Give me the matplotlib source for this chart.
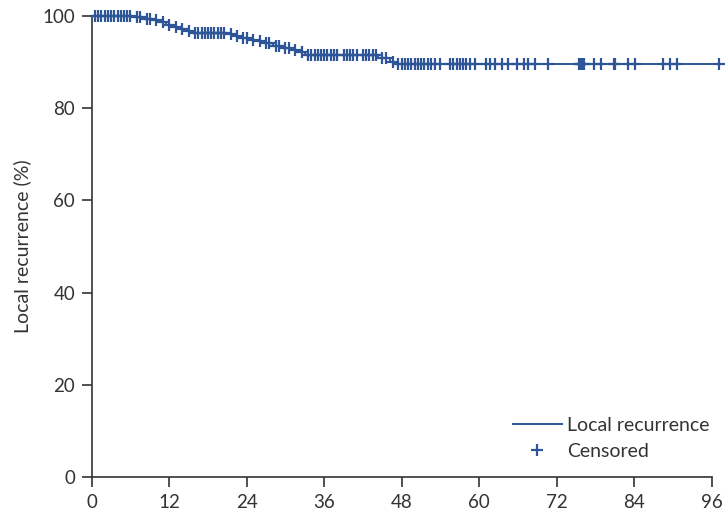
import matplotlib
matplotlib.use("Agg")
import matplotlib.pyplot as plt
import numpy as np

plt.rcParams['font.family'] = ['Lato', 'DejaVu Sans']

# Kaplan-Meier step points (months, % free of local recurrence)
eventTimes = [0, 6.5, 8, 9.5, 10.5, 11.5, 12.5, 13.5, 14.5, 15.5, 21, 22, 23, 24.5, 25.5,
              26.5, 28, 29.5, 31, 32, 33, 44.3, 46.2, 47.0]
survival = [100, 99.7, 99.4, 99.1, 98.6, 98.1, 97.6, 97.2, 96.8, 96.4, 96.1, 95.7, 95.3,
            94.9, 94.5, 94.1, 93.6, 93.1, 92.6, 92.1, 91.6, 90.9, 90.1, 89.5]
endTime = 97.2

# Censored observations (months)
censorTimes = [0.5, 1, 1.5, 2, 2.5, 3, 3.5, 4, 4.5, 5, 5.5, 6, 7, 7.5,
               8.5, 9, 10, 11, 12, 13, 14, 15, 16, 16.5, 17, 17.5, 18, 18.5,
               19, 19.5, 20, 20.5, 21.5, 22.5, 23.5, 24, 25, 26, 27, 27.5, 28.5,
               29, 30, 30.5, 31.5, 32.5, 33.5, 34, 34.5, 35, 35.5, 36, 36.5, 37,
               37.5, 38, 39, 39.5, 40, 40.5, 41, 42, 42.5, 43, 43.5, 44, 45, 45.5,
               46.6, 47.5, 48, 48.5, 49, 49.5, 50, 50.5, 51, 51.5, 52, 52.5, 53.2,
               54, 55.5, 56, 56.5, 57, 57.5, 58, 58.5, 59.4, 61, 61.7, 62.5, 63.6,
               64.5, 65.9, 66.9, 67.6, 68.7, 70.7, 75.4, 75.7, 76, 76.2, 77.7,
               78.8, 80.8, 81.1, 83.1, 84.2, 88.4, 89.6, 90.7, 97.2]

xTicks = [0, 12, 24, 36, 48, 60, 72, 84, 96]
yTicks = [0, 20, 40, 60, 80, 100]

blue = '#2E5597'
grey = '#333333'

fig = plt.figure(figsize=(7.28, 5.23), dpi=100)
ax = fig.add_axes([0.126, 0.088, 0.8516, 0.8814])

# Step curve
stepX = eventTimes + [endTime]
stepY = survival + [survival[-1]]
ax.step(stepX, stepY, where='post', color=blue, linewidth=1.4, clip_on=False,
        label='Local recurrence', zorder=3)

# Censor marks on the curve
censorY = [survival[np.searchsorted(eventTimes, t, side='right') - 1] for t in censorTimes]
ax.plot(censorTimes, censorY, linestyle='none', marker='+', markersize=8,
        markeredgewidth=1.6, color=blue, clip_on=False, label='Censored', zorder=4)

ax.set_xlim(0, 96)
ax.set_ylim(0, 100)
ax.set_xticks(xTicks)
ax.set_yticks(yTicks)
ax.spines['top'].set_visible(False)
ax.spines['right'].set_visible(False)
for s in ['left', 'bottom']:
    ax.spines[s].set_color(grey)
    ax.spines[s].set_linewidth(1.2)
ax.tick_params(axis='both', direction='out', length=7, width=1.2, color=grey,
               labelcolor=grey, labelsize=13.5, pad=5)
ax.set_ylabel('Local recurrence (%)', fontsize=14, color=grey, labelpad=8)

ax.legend(loc='lower right', bbox_to_anchor=(1.016, 0.012), frameon=False, fontsize=14,
          handlelength=2.5, handletextpad=0.3, borderaxespad=0.2, labelspacing=0.45,
          labelcolor=grey)

fig.savefig('out.png', dpi=100)
